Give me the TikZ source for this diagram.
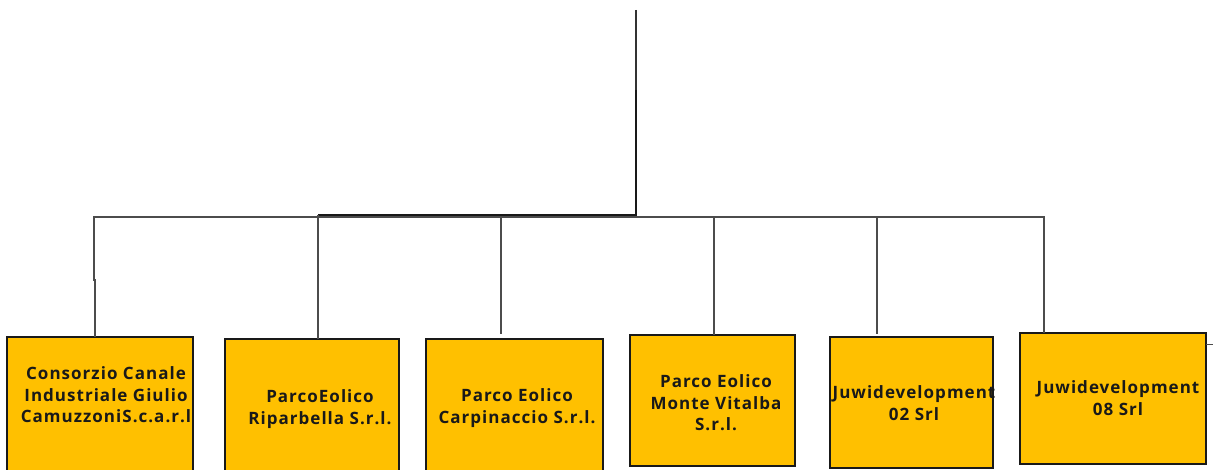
\documentclass[tikz,border=0pt]{standalone}
\usepackage{fontspec}
\setmainfont{Open Sans}[LetterSpace=6]
\begin{document}
\begin{tikzpicture}[x=1pt,y=-1pt,
  company/.style={draw=black!90,line width=2.6pt,fill=orgfill,inner sep=0pt},
  lbl/.style={font=\bfseries\fontsize{17}{21.5}\selectfont,text=black!90,inner sep=0pt,align=center},
  conn/.style={draw=black!70,line width=1.2pt},
  trunk/.style={draw=black!90,line width=1.8pt}]
\definecolor{orgfill}{HTML}{FFC000}
\useasboundingbox (0,0) rectangle (1213,470);
% boxes
\path[company] (7,337) rectangle (193,472);
\coordinate (b1t) at (95,337);
\path[company] (225,339) rectangle (399,472);
\coordinate (b2t) at (318,339);
\path[company] (426,339) rectangle (603,472);
\coordinate (b3t) at (501,334);
\path[company] (630,335) rectangle (795,466);
\coordinate (b4t) at (714,335);
\path[company] (830,337) rectangle (993,468);
\coordinate (b5t) at (877,334);
\path[company] (1020,333) rectangle (1206,464);
\coordinate (b6t) at (1044,333);
% labels
\node[lbl] (t1) at (106,395) {Consorzio Canale\\Industriale Giulio\\CamuzzoniS.c.a.r.l};
\node[lbl] (t2) at (320,409) {ParcoEolico\\Riparbella S.r.l.};
\node[lbl] (t3) at (517,408) {Parco Eolico\\Carpinaccio S.r.l.};
\node[lbl] (t4) at (716,403) {Parco Eolico\\Monte Vitalba\\S.r.l.};
\node[lbl] (t5) at (914,403) {Juwidevelopment\\02 Srl};
\node[lbl] (t6) at (1118,398) {Juwidevelopment\\08 Srl};
% connectors
\coordinate (top) at (636,10);
\coordinate (mid) at (636,90);
\coordinate (hub) at (636,215);
\coordinate (l1) at (94,217);
\coordinate (l1a) at (94,280);
\coordinate (l1b) at (95,280);
\coordinate (r6) at (1044,217);
\coordinate (rx) at (1213,344);
\coordinate (rxa) at (1206,344);
\draw[black!80,line width=1.4pt] (top) -- (mid);
\draw[trunk] (mid) -- (hub) -- (318,215);
\draw[conn] (l1b |- b1t) -- (l1b) -- (l1a) -- (l1) -- (r6) -- (b6t);
\draw[conn] (318,215) -- (b2t);
\draw[conn] (501,217) -- (b3t);
\draw[conn] (714,217) -- (b4t);
\draw[conn] (877,217) -- (b5t);
\draw[conn,line width=0.8pt] (rxa) -- (rx);
\end{tikzpicture}
\end{document}
